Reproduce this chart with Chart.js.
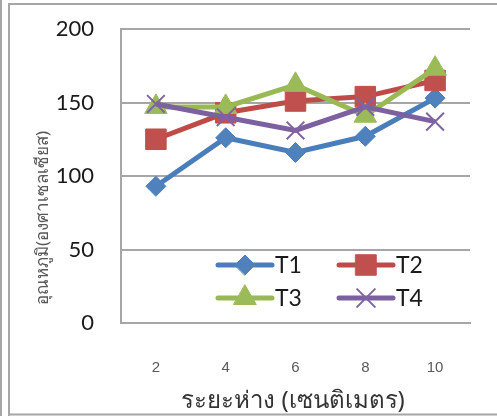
<!DOCTYPE html>
<html>
<head>
<meta charset="utf-8">
<script src="https://cdn.jsdelivr.net/npm/chart.js@4/dist/chart.umd.min.js"></script>
<style>
  html, body { margin: 0; padding: 0; background: #ffffff; }
  #wrap { position: relative; width: 497px; height: 416px; }
</style>
</head>
<body>
<div id="wrap"><canvas id="c" width="497" height="416"></canvas></div>
<script>
// Distance from the source (cm) and measured temperatures (°C)
const categories = ['2', '4', '6', '8', '10'];
const seriesNames = ['T1', 'T2', 'T3', 'T4'];
const t1 = [93, 126, 116, 127, 153];
const t2 = [125, 143, 151, 154, 165];
const t3 = [147, 147, 162, 141, 173];
const t4 = [149, 140, 131, 147, 137];
const yTicks = [0, 50, 100, 150, 200];

const yTitle = 'อุณหภูมิ(องศาเซลเซียส)';
const xTitle = 'ระยะห่าง (เซนติเมตร)';

const styles = [
  { line: '#4A7EBB', fill: '#4F81BD', shape: 'rectRot', r: 10, bw: 1 },
  { line: '#BE4B48', fill: '#C0504D', shape: 'rect', r: 14.5, bw: 1 },
  { line: '#98B954', fill: '#9BBB59', shape: 'triangle', r: 13, bw: 1 },
  { line: '#7D60A0', fill: '#8064A2', shape: 'crossRot', r: 12.5, bw: 2 }
];
const values = [t1, t2, t3, t4];

// later series are painted over earlier ones
const datasets = values.map((v, i) => ({
  label: seriesNames[i],
  data: v,
  order: values.length - 1 - i,
  borderColor: styles[i].line,
  backgroundColor: styles[i].fill,
  borderWidth: 5,
  pointStyle: styles[i].shape,
  pointRadius: styles[i].r,
  pointHoverRadius: styles[i].r,
  pointBackgroundColor: styles[i].fill,
  pointBorderColor: styles[i].fill,
  pointBorderWidth: styles[i].bw,
  tension: 0,
  fill: false
}));

// Page frame, axis titles and the two-column legend inside the plot
const decor = {
  id: 'decor',
  beforeDraw(chart) {
    const ctx = chart.ctx;
    ctx.save();
    ctx.fillStyle = '#ffffff';
    ctx.fillRect(0, 0, chart.width, chart.height);
    ctx.strokeStyle = '#a6a6a6';
    ctx.lineWidth = 2;
    ctx.beginPath();
    ctx.moveTo(1, 0); ctx.lineTo(1, 416);
    ctx.moveTo(9, 416); ctx.lineTo(9, 4); ctx.lineTo(497, 4);
    ctx.moveTo(9, 414.5); ctx.lineTo(497, 414.5);
    ctx.stroke();
    ctx.restore();
  },
  afterDraw(chart) {
    const ctx = chart.ctx;
    ctx.save();
    // y title
    ctx.translate(43, 218);
    ctx.rotate(-Math.PI / 2);
    ctx.fillStyle = '#595959';
    ctx.font = '17px "Noto Sans", "DejaVu Sans", sans-serif';
    ctx.textAlign = 'center';
    ctx.textBaseline = 'middle';
    ctx.fillText(yTitle, 0, 0);
    ctx.restore();

    ctx.save();
    ctx.fillStyle = '#333333';
    ctx.font = '24px "Noto Sans", "DejaVu Sans", sans-serif';
    ctx.textAlign = 'center';
    ctx.textBaseline = 'middle';
    ctx.fillText(xTitle, 293, 401);
    ctx.restore();

    // legend
    const cols = [218, 339];
    const rows = [265, 298];
    chart.data.datasets.forEach((ds, i) => {
      const x0 = cols[i % 2];
      const y = rows[Math.floor(i / 2)];
      ctx.save();
      ctx.strokeStyle = ds.borderColor;
      ctx.lineWidth = 5;
      ctx.lineCap = 'round';
      ctx.beginPath();
      ctx.moveTo(x0, y); ctx.lineTo(x0 + 54, y);
      ctx.stroke();
      ctx.fillStyle = ds.pointBackgroundColor;
      ctx.strokeStyle = ds.pointBorderColor;
      ctx.lineWidth = ds.pointBorderWidth;
      Chart.helpers.drawPoint(ctx, {
        pointStyle: ds.pointStyle,
        rotation: 0,
        radius: ds.pointRadius,
        borderWidth: ds.pointBorderWidth
      }, x0 + 27, y);
      ctx.fillStyle = '#1a1a1a';
      ctx.font = '23px Lato, "Open Sans", sans-serif';
      ctx.textAlign = 'left';
      ctx.textBaseline = 'middle';
      ctx.fillText(ds.label, x0 + 57, y + 1);
      ctx.restore();
    });
  }
};

new Chart(document.getElementById('c'), {
  type: 'line',
  data: { labels: categories, datasets },
  options: {
    responsive: false,
    animation: false,
    devicePixelRatio: 1,
    layout: { padding: { top: 29, right: 27, bottom: 0, left: 0 } },
    plugins: {
      legend: { display: false },
      tooltip: { enabled: false },
      title: { display: false }
    },
    scales: {
      x: {
        offset: true,
        grid: { display: false, drawTicks: false },
        border: { display: true, color: '#a6a6a6', width: 2 },
        ticks: {
          padding: 36,
          color: '#595959',
          font: { family: '"Liberation Sans", Arial, sans-serif', size: 15 }
        },
        afterFit(scale) { scale.height = 93; }
      },
      y: {
        min: 0,
        max: 200,
        afterBuildTicks(scale) { scale.ticks = yTicks.map(v => ({ value: v })); },
        grid: { color: '#a6a6a6', lineWidth: 2, drawTicks: false },
        border: { display: true, color: '#a6a6a6', width: 2 },
        ticks: {
          padding: 27,
          color: '#1a1a1a',
          font: { family: 'Lato, "Open Sans", sans-serif', size: 22 }
        },
        afterFit(scale) {
          scale.width = 121;
          scale.paddingTop = 0;
          scale.paddingBottom = 0;
        }
      }
    }
  },
  plugins: [decor]
});
</script>
</body>
</html>
